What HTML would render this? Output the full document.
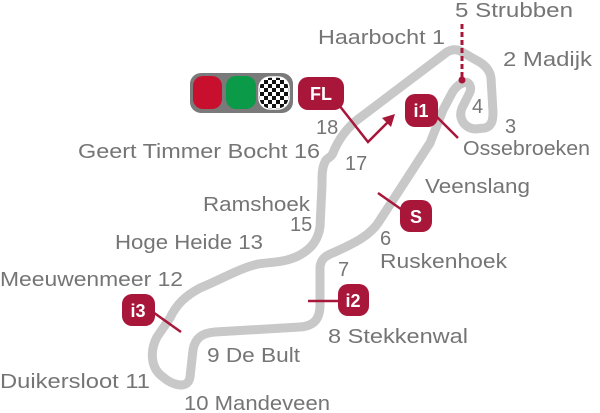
<!DOCTYPE html>
<html><head><meta charset="utf-8"><style>
html,body{margin:0;padding:0;background:#fff;width:600px;height:413px;overflow:hidden}
svg text{font-family:"Liberation Sans",sans-serif;font-size:20px;fill:#757575}
.b{fill:#fff;font-weight:bold;font-size:18px}
</style></head><body>
<svg width="600" height="413" viewBox="0 0 600 413" xmlns="http://www.w3.org/2000/svg">
<defs>
<pattern id="ck" width="8" height="8" patternUnits="userSpaceOnUse">
<rect width="8" height="8" fill="#fff"/><rect width="4" height="4" fill="#111"/><rect x="4" y="4" width="4" height="4" fill="#111"/>
</pattern>
</defs>
<path d="M463,83 C468,80 472,86 470,92 L462,108 C458,118 464,128 475,129 L485,128 C492,126 493,120 493,112 L491,78 C490,70 484,64 476,60 L462,52 C458,49 452,49 447,52 L357,120 C347,128 338,140 333,153 C331,158 326,158 325,162 C322,168 322,175 322,185 L320,227 C318,240 312,248 300,255 C285,263 270,262 258,264 C240,268 220,280 200,288 C185,296 176,305 170,318 L157,337 C150,350 150,368 163,377 C172,385 188,390 190,377 L193,350 C195,338 202,333 215,332 L300,327 C315,326 320,318 320,305 L320,267 C321,258 327,255 335,252 C350,245 370,237 380,220 L430,143 L443,110 L452,93 C456,86 460,84 463,83 Z" fill="none" stroke="#c8c8c8" stroke-width="9" stroke-linejoin="round"/>
<line x1="462" y1="24" x2="462" y2="78" stroke="#a8173a" stroke-width="3" stroke-dasharray="5,3"/>
<circle cx="462" cy="80" r="3.5" fill="#a8173a"/>
<rect x="190" y="73" width="103" height="40" rx="11" fill="#7a7a7a"/>
<rect x="193" y="76" width="29" height="33" rx="10" fill="#c8102e"/>
<rect x="226" y="76" width="30" height="33" rx="10" fill="#0a9a48"/>
<rect x="259" y="77" width="30" height="32" rx="11" fill="url(#ck)" stroke="#fff" stroke-width="1.5"/>
<g stroke="#a8173a" stroke-width="2.5" fill="none">
<polyline points="335,100 368,142 390,120"/>
<line x1="435" y1="115" x2="458" y2="138"/>
<line x1="378" y1="193" x2="408" y2="214"/>
<line x1="308" y1="301" x2="342" y2="301"/>
<line x1="150" y1="310" x2="181" y2="332"/>
</g>
<polygon points="395,114 382,118 391,127" fill="#a8173a"/>
<g fill="#a8173a">
<rect x="298" y="77" width="46" height="33" rx="10"/>
<rect x="405" y="94" width="33" height="33" rx="10"/>
<rect x="400" y="200" width="32" height="32" rx="10"/>
<rect x="338" y="284" width="31" height="32" rx="10"/>
<rect x="122" y="294" width="33" height="32" rx="10"/>
</g>
<text class="b" x="321" y="100" text-anchor="middle">FL</text>
<text class="b" x="421" y="117" text-anchor="middle">i1</text>
<text class="b" x="416" y="223" text-anchor="middle">S</text>
<text class="b" x="353" y="307" text-anchor="middle">i2</text>
<text class="b" x="138" y="317" text-anchor="middle">i3</text>
<text x="455" y="17" textLength="118" lengthAdjust="spacingAndGlyphs">5 Strubben</text>
<text x="318" y="44" textLength="127" lengthAdjust="spacingAndGlyphs">Haarbocht 1</text>
<text x="503" y="66" textLength="89" lengthAdjust="spacingAndGlyphs">2 Madijk</text>
<text x="472" y="113">4</text>
<text x="505" y="133">3</text>
<text x="463" y="155" textLength="127" lengthAdjust="spacingAndGlyphs">Ossebroeken</text>
<text x="316" y="134">18</text>
<text x="78" y="158" textLength="242" lengthAdjust="spacingAndGlyphs">Geert Timmer Bocht 16</text>
<text x="345" y="170">17</text>
<text x="425" y="193" textLength="105" lengthAdjust="spacingAndGlyphs">Veenslang</text>
<text x="203" y="211" textLength="107" lengthAdjust="spacingAndGlyphs">Ramshoek</text>
<text x="290" y="231">15</text>
<text x="380" y="245">6</text>
<text x="380" y="268" textLength="127" lengthAdjust="spacingAndGlyphs">Ruskenhoek</text>
<text x="115" y="249" textLength="148" lengthAdjust="spacingAndGlyphs">Hoge Heide 13</text>
<text x="338" y="276">7</text>
<text x="0" y="286" textLength="183" lengthAdjust="spacingAndGlyphs">Meeuwenmeer 12</text>
<text x="328" y="343" textLength="140" lengthAdjust="spacingAndGlyphs">8 Stekkenwal</text>
<text x="207" y="362" textLength="93" lengthAdjust="spacingAndGlyphs">9 De Bult</text>
<text x="0" y="388" textLength="150" lengthAdjust="spacingAndGlyphs">Duikersloot 11</text>
<text x="184" y="410" textLength="146" lengthAdjust="spacingAndGlyphs">10 Mandeveen</text>
</svg>
</body></html>
